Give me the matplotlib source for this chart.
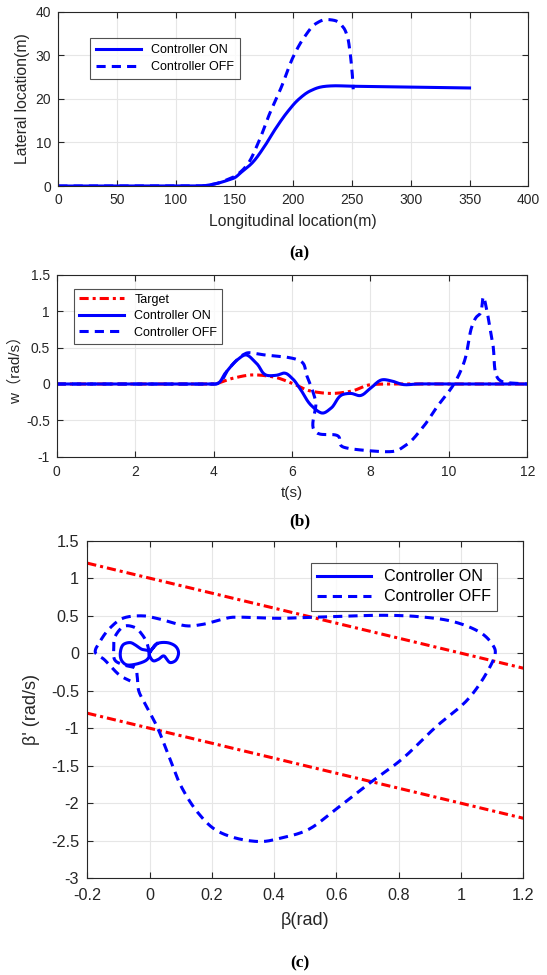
import numpy as np
import matplotlib
matplotlib.use('Agg')
import matplotlib.pyplot as plt

plt.rcParams['font.family'] = ['Liberation Sans', 'Noto Sans CJK SC', 'DejaVu Sans']
plt.rcParams['xtick.direction'] = 'in'
plt.rcParams['ytick.direction'] = 'in'

# (a) trajectory
xa_on = [0, 100, 120, 125, 135, 145, 150, 155, 165, 175, 185, 195, 205, 215, 225, 235, 250, 300, 350]
ya_on = [0, 0, 0, 0.1, 0.6, 1.4, 1.9, 3.0, 5.3, 8.9, 13.2, 17.0, 20.0, 21.9, 22.8, 23.0, 22.9, 22.7, 22.5]
xa_off = [0, 100, 120, 125, 135, 145, 150, 160, 170, 180, 190, 200, 210, 220, 228, 235, 242, 246, 248, 250, 251]
ya_off = [0, 0, 0, 0.1, 0.6, 1.6, 2.2, 4.6, 9.8, 16.7, 22.8, 29.7, 34.4, 37.4, 38.2, 38.0, 36.6, 34.3, 31.3, 26.3, 22.2]

# (b) yaw rate
tb_target = [0, 3.8, 4.0, 4.5, 5.0, 5.5, 6.0, 6.5, 7.0, 7.5, 8.0, 8.5, 9.0, 12]
wb_target = [0, 0, 0, 0.08, 0.125, 0.1, 0.01, -0.1, -0.13, -0.1, -0.01, 0.0, 0, 0]
tb_on = [0, 3.9, 4.05, 4.3, 4.6, 4.82, 5.1, 5.4, 5.6, 5.8, 6.0, 6.2, 6.5, 6.78, 7.0, 7.32, 7.5, 7.72, 8.0, 8.33, 8.55, 8.88, 9.2, 10, 12]
wb_on = [0, 0, 0, 0.15, 0.33, 0.40, 0.28, 0.115, 0.12, 0.15, 0.08, -0.06, -0.3, -0.40, -0.33, -0.14, -0.13, -0.16, -0.06, 0.06, 0.04, -0.01, 0, 0, 0]
tb_off = [0, 3.9, 4.06, 4.4, 4.78, 4.9, 5.3, 5.85, 6.2, 6.38, 6.6, 6.72, 7.1, 7.32, 7.8, 8.53, 8.88, 9.33, 9.69, 10.13, 10.4, 10.58, 10.7, 10.8, 10.88, 10.95, 11.12, 11.3, 11.47, 12]
wb_off = [0, 0, 0, 0.22, 0.41, 0.43, 0.40, 0.37, 0.32, 0.11, -0.23, -0.69, -0.70, -0.87, -0.91, -0.93, -0.85, -0.6, -0.32, 0, 0.32, 0.78, 0.92, 0.97, 1.2, 1.06, 0.55, 0.05, 0.02, 0]

# (c) phase plane
beta_line = [-0.2, 1.2]
upper_line = [1.2, -0.2]
lower_line = [-0.8, -2.2]
beta_on = [0.0, 0.024, 0.056, 0.082, 0.093, 0.082, 0.066, 0.045, 0.029, 0.013, 0.0, -0.003, -0.025, -0.041, -0.062, -0.083, -0.094, -0.089, -0.073, -0.046, -0.014, -0.003, 0.0, 0.024]
dbeta_on = [0.008, 0.128, 0.141, 0.097, 0.008, -0.103, -0.125, -0.036, -0.08, -0.103, -0.036, 0.03, 0.052, 0.097, 0.141, 0.119, 0.008, -0.103, -0.156, -0.148, -0.103, -0.058, 0.008, 0.128]
beta_off = [0.0, -0.01, -0.025, -0.046, -0.078, -0.11, -0.115, -0.11, -0.08, -0.046, -0.04, -0.035, -0.01, 0.024, 0.058, 0.102, 0.158, 0.214, 0.282, 0.36, 0.416, 0.505, 0.595, 0.707, 0.808, 0.92, 1.021, 1.088, 1.11, 1.105, 1.066, 0.976, 0.864, 0.752, 0.64, 0.528, 0.416, 0.29, 0.258, 0.173, 0.12, 0.034, -0.019, -0.083, -0.126, -0.158, -0.174, -0.147, -0.094, -0.062]
dbeta_off = [0.0, 0.15, 0.253, 0.34, 0.364, 0.23, 0.08, -0.1, -0.16, -0.2, -0.3, -0.5, -0.71, -0.98, -1.33, -1.78, -2.14, -2.36, -2.47, -2.51, -2.47, -2.36, -2.09, -1.73, -1.42, -0.98, -0.62, -0.22, 0.0, 0.088, 0.265, 0.42, 0.487, 0.505, 0.495, 0.48, 0.465, 0.48, 0.475, 0.386, 0.364, 0.453, 0.497, 0.47, 0.34, 0.164, 0.008, -0.08, -0.3, -0.37]

tc = '#262626'
fig = plt.figure(figsize=(5.47, 9.75), dpi=100)


def style(ax, fs, pad):
    ax.grid(True, color='#e6e6e6', linewidth=0.8)
    ax.set_axisbelow(True)
    ax.tick_params(top=True, right=True, labelsize=fs, colors=tc, length=4, width=0.8)
    ax.tick_params(axis='x', pad=pad[0])
    ax.tick_params(axis='y', pad=pad[1])
    for s in ax.spines.values():
        s.set_color(tc)
        s.set_linewidth(0.8)


def smooth(x, y, sx, sy, n=14):
    # centripetal Catmull-Rom through the read points
    P = np.column_stack([np.asarray(x, float) / sx, np.asarray(y, float) / sy])
    P = np.vstack([2 * P[0] - P[1], P, 2 * P[-1] - P[-2]])
    out = []
    for i in range(1, len(P) - 2):
        p0, p1, p2, p3 = P[i - 1], P[i], P[i + 1], P[i + 2]
        t0 = 0.0
        t1 = t0 + max(np.linalg.norm(p1 - p0), 1e-9) ** 0.5
        t2 = t1 + max(np.linalg.norm(p2 - p1), 1e-9) ** 0.5
        t3 = t2 + max(np.linalg.norm(p3 - p2), 1e-9) ** 0.5
        t = np.linspace(t1, t2, n, endpoint=False)[:, None]
        a1 = (t1 - t) / (t1 - t0) * p0 + (t - t0) / (t1 - t0) * p1
        a2 = (t2 - t) / (t2 - t1) * p1 + (t - t1) / (t2 - t1) * p2
        a3 = (t3 - t) / (t3 - t2) * p2 + (t - t2) / (t3 - t2) * p3
        b1 = (t2 - t) / (t2 - t0) * a1 + (t - t0) / (t2 - t0) * a2
        b2 = (t3 - t) / (t3 - t1) * a2 + (t - t1) / (t3 - t1) * a3
        out.append((t2 - t) / (t2 - t1) * b1 + (t - t1) / (t2 - t1) * b2)
    out.append(P[-2][None, :])
    out = np.vstack(out)
    return out[:, 0] * sx, out[:, 1] * sy


dashdot = (0, (3, 1.3, 1, 1.3))
dash = (0, (3, 2))

#%% (a)
ax1 = fig.add_axes([0.1066, 0.8092, 0.8592, 0.1788])
ax1.plot(*smooth(xa_on, ya_on, 400, 40 * 0.37), color='b', lw=2.2, label='Controller ON')
ax1.plot(*smooth(xa_off, ya_off, 400, 40 * 0.37), color='b', lw=2.2, ls=dash, label='Controller OFF')
ax1.set_xlim(0, 400)
ax1.set_ylim(0, 40)
ax1.set_xticks(np.arange(0, 401, 50))
ax1.set_yticks(np.arange(0, 41, 10))
ax1.set_xlabel('Longitudinal location(m)', fontsize=11.3, color=tc, va='center')
ax1.set_ylabel('Lateral location(m)', fontsize=11.3, color=tc, va='center')
ax1.xaxis.set_label_coords(0.5, -0.205)
ax1.yaxis.set_label_coords(-0.076, 0.5)
style(ax1, 10, (5, 5))
leg = ax1.legend(loc='upper left', bbox_to_anchor=(0.054, 0.885), fontsize=9, fancybox=False,
                 edgecolor=tc, handlelength=3.6, borderpad=0.5, labelspacing=0.4)
leg.get_frame().set_linewidth(0.8)
fig.text(0.548, 1 - 253 / 975, '(a)', ha='center', va='center', fontsize=12.5,
         family='Liberation Serif', weight='bold')

#%% (b)
ax2 = fig.add_axes([0.1037, 0.5316, 0.8603, 0.1864])
ax2.plot(*smooth(tb_target, wb_target, 12, 2.5 * 0.39), color='r', lw=2.2, ls=dashdot, label='Target')
ax2.plot(*smooth(tb_on, wb_on, 12, 2.5 * 0.39), color='b', lw=2.2, label='Controller ON')
ax2.plot(*smooth(tb_off, wb_off, 12, 2.5 * 0.39), color='b', lw=2.2, ls=dash, label='Controller OFF')
ax2.set_xlim(0, 12)
ax2.set_ylim(-1, 1.5)
ax2.set_xticks(np.arange(0, 13, 2))
ax2.set_yticks([-1, -0.5, 0, 0.5, 1, 1.5])
ax2.set_yticklabels(['-1', '-0.5', '0', '0.5', '1', '1.5'])
ax2.set_xlabel('t(s)', fontsize=11, color=tc, va='center')
ax2.set_ylabel('w（rad/s）', fontsize=11, color=tc, va='center')
ax2.xaxis.set_label_coords(0.5, -0.2)
ax2.yaxis.set_label_coords(-0.088, 0.5)
style(ax2, 10, (6, 5))
leg = ax2.legend(loc='upper left', bbox_to_anchor=(0.024, 0.958), fontsize=9, fancybox=False,
                 edgecolor=tc, handlelength=3.6, borderpad=0.4, labelspacing=0.35)
leg.get_frame().set_linewidth(0.8)
fig.text(0.548, 1 - 521 / 975, '(b)', ha='center', va='center', fontsize=12.5,
         family='Liberation Serif', weight='bold')

#%% (c)
ax3 = fig.add_axes([0.1596, 0.0992, 0.7971, 0.3463])
ax3.plot(beta_line, upper_line, color='r', lw=2.2, ls=dashdot)
ax3.plot(beta_line, lower_line, color='r', lw=2.2, ls=dashdot)
ax3.plot(*smooth(beta_on, dbeta_on, 1.4, 4.5 * 0.77, n=20), color='b', lw=2.2, label='Controller ON')
ax3.plot(*smooth(beta_off, dbeta_off, 1.4, 4.5 * 0.77), color='b', lw=2.2, ls=dash, label='Controller OFF')
ax3.set_xlim(-0.2, 1.2)
ax3.set_ylim(-3, 1.5)
ax3.set_xticks(np.arange(-0.2, 1.21, 0.2))
ax3.set_xticklabels(['-0.2', '0', '0.2', '0.4', '0.6', '0.8', '1', '1.2'])
ax3.set_yticks(np.arange(-3, 1.51, 0.5))
ax3.set_yticklabels(['-3', '-2.5', '-2', '-1.5', '-1', '-0.5', '0', '0.5', '1', '1.5'])
ax3.set_xlabel('β(rad)', fontsize=13, color=tc, va='center')
ax3.set_ylabel("β' (rad/s)", fontsize=13, color=tc, va='center')
ax3.xaxis.set_label_coords(0.5, -0.124)
ax3.yaxis.set_label_coords(-0.128, 0.5)
style(ax3, 11.7, (7, 6))
leg = ax3.legend(loc='upper right', bbox_to_anchor=(0.958, 0.958), fontsize=11.6, fancybox=False,
                 edgecolor=tc, handlelength=3.3, borderpad=0.4, labelspacing=0.3)
leg.get_frame().set_linewidth(0.8)
fig.text(0.548, 1 - 963 / 975, '(c)', ha='center', va='center', fontsize=12.5,
         family='Liberation Serif', weight='bold')

plt.savefig('out.png', dpi=100)
